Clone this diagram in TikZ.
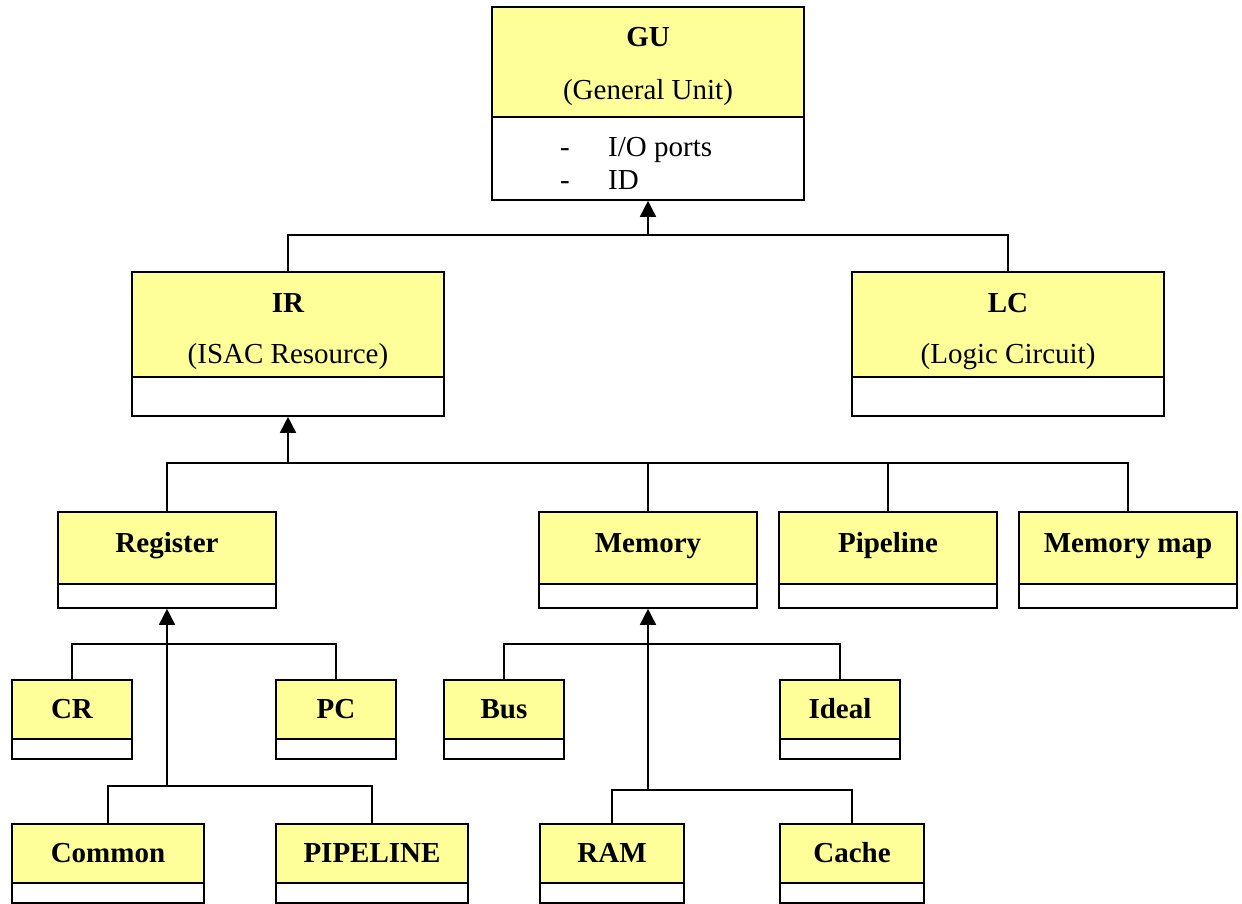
\documentclass[tikz,border=0pt]{standalone}
\usepackage{fontspec}
\setmainfont{Liberation Serif}
\usetikzlibrary{arrows.meta}
\definecolor{boxyellow}{HTML}{FFFF99}
\tikzset{
  hd/.style={draw, line width=1.6pt, fill=boxyellow, inner sep=0pt,
    font=\fontsize{29}{35}\selectfont\bfseries, align=center},
  bd/.style={draw, line width=1.6pt, fill=white, inner sep=0pt},
  attr/.style={inner sep=0pt, font=\fontsize{29}{33}\selectfont, align=left},
  conn/.style={line width=1.6pt},
  arr/.style={line width=1.6pt, -{Triangle[length=16pt,width=16pt]}},
  rowtwo/.style={hd, minimum width=218pt, minimum height=72pt, text height=20pt, text depth=12pt},
  rowtwob/.style={bd, minimum width=218pt, minimum height=24pt},
  small/.style={hd, minimum height=59pt, text height=20pt, text depth=2pt},
  smallb/.style={bd, minimum height=20pt},
}
\begin{document}
\begin{tikzpicture}[x=1pt,y=-1pt]
\useasboundingbox (0,0) rectangle (1242,904);
% GU
\node[hd, minimum width=312pt, minimum height=110pt] (gu) at (648,62) {\rule{0pt}{28pt}GU\\[18pt]\mdseries (General Unit)};
\node[bd, minimum width=312pt, minimum height=83pt] (gub) at (648,158.5) {};
\node[attr, anchor=west] (gutxt) at (560,163) {\makebox[48pt][l]{-}I/O ports\\\makebox[48pt][l]{-}ID};
% IR, LC
\node[hd, minimum width=312pt, minimum height=105pt] (ir) at (288,324.5) {\rule{0pt}{33pt}IR\\[16pt]\mdseries (ISAC Resource)};
\node[bd, minimum width=312pt, minimum height=39pt] (irb) at (288,396.5) {};
\node[hd, minimum width=312pt, minimum height=105pt] (lc) at (1008,324.5) {\rule{0pt}{33pt}LC\\[16pt]\mdseries (Logic Circuit)};
\node[bd, minimum width=312pt, minimum height=39pt] (lcb) at (1008,396.5) {};
% row 2
\node[rowtwo] (reg) at (167,548) {Register};
\node[rowtwob] (regb) at (167,596) {};
\node[rowtwo] (mem) at (648,548) {Memory};
\node[rowtwob] (memb) at (648,596) {};
\node[rowtwo] (pip) at (888,548) {Pipeline};
\node[rowtwob] (pipb) at (888,596) {};
\node[rowtwo] (mm) at (1128,548) {Memory map};
\node[rowtwob] (mmb) at (1128,596) {};
% row 3
\node[small, minimum width=120pt] (cr) at (72,709.5) {CR};
\node[smallb, minimum width=120pt] (crb) at (72,749) {};
\node[small, minimum width=120pt] (pc) at (336,709.5) {PC};
\node[smallb, minimum width=120pt] (pcb) at (336,749) {};
\node[small, minimum width=120pt] (bus) at (504,709.5) {Bus};
\node[smallb, minimum width=120pt] (busb) at (504,749) {};
\node[small, minimum width=120pt] (ideal) at (840,709.5) {Ideal};
\node[smallb, minimum width=120pt] (idealb) at (840,749) {};
% row 4
\node[small, minimum width=192pt] (common) at (108,853.5) {Common};
\node[smallb, minimum width=192pt] (commonb) at (108,893) {};
\node[small, minimum width=192pt] (pipe) at (372,853.5) {PIPELINE};
\node[smallb, minimum width=192pt] (pipeb) at (372,893) {};
\node[small, minimum width=144pt] (ram) at (612,853.5) {RAM};
\node[smallb, minimum width=144pt] (ramb) at (612,893) {};
\node[small, minimum width=144pt] (cache) at (852,853.5) {Cache};
\node[smallb, minimum width=144pt] (cacheb) at (852,893) {};
% junctions
\coordinate (j1) at (648,235);
\coordinate (j2) at (288,463);
\coordinate (j3) at (167,644);
\coordinate (j4) at (167,786);
\coordinate (j5) at (648,644);
\coordinate (j6) at (648,790);
% connectors
\draw[arr] (ir.north) |- (j1) -- (gub.south);
\draw[conn] (lc.north) |- (j1);
\draw[arr] (reg.north) |- (j2) -- (irb.south);
\draw[conn] (mem.north) |- (j2);
\draw[conn] (pip.north) |- (j2);
\draw[conn] (mm.north) |- (j2);
\draw[conn] (cr.north) |- (j3) -| (pc.north);
\draw[arr] (common.north) |- (j4) -- (regb.south);
\draw[conn] (pipe.north) |- (j4);
\draw[conn] (bus.north) |- (j5) -| (ideal.north);
\draw[arr] (ram.north) |- (j6) -- (memb.south);
\draw[conn] (cache.north) |- (j6);
\end{tikzpicture}
\end{document}
